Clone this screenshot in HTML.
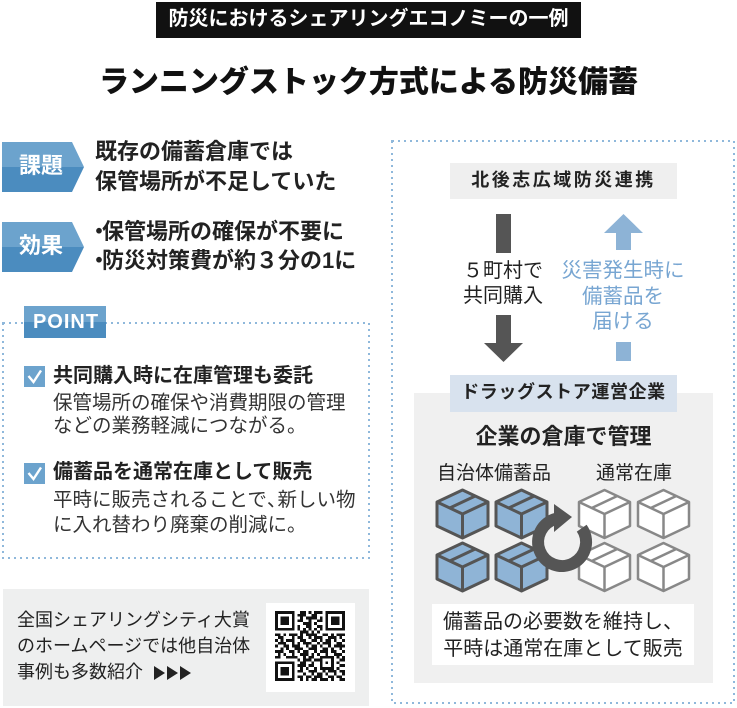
<!DOCTYPE html>
<html><head><meta charset="utf-8"><style>
html,body{margin:0;padding:0;}
body{width:737px;height:708px;overflow:hidden;background:#fff;position:relative;font-family:"Liberation Sans","Noto Sans CJK JP",sans-serif;color:#222;}
.t{position:absolute;white-space:nowrap;line-height:1;}
.b{font-weight:700;}
svg{position:absolute;left:0;top:0;}
</style></head><body>
<svg width="737" height="708" viewBox="0 0 737 708">
  <rect x="156" y="2" width="425" height="36" fill="#111"/>
  <polygon points="2,142 72,142 84,167 2,167" fill="#6ca3cd"/>
  <polygon points="2,167 84,167 72,192 2,192" fill="#4b8cbf"/>
  <polygon points="2,222 72,222 84,247 2,247" fill="#6ca3cd"/>
  <polygon points="2,247 84,247 72,272 2,272" fill="#4b8cbf"/>
  <rect x="3" y="323" width="366" height="235" fill="none" stroke="#8fb8db" stroke-width="2" stroke-dasharray="2 4"/>
  <rect x="24" y="306" width="82" height="16" fill="#6ca3cd"/>
  <rect x="24" y="322" width="82" height="16" fill="#4b8cbf"/>
  <rect x="24" y="366" width="21" height="21" fill="#6ca3cd"/>
  <polyline points="28.5,376 33.5,382 41,370.5" fill="none" stroke="#fff" stroke-width="2.4"/>
  <rect x="24" y="463" width="21" height="21" fill="#6ca3cd"/>
  <polyline points="28.5,473 33.5,479 41,467.5" fill="none" stroke="#fff" stroke-width="2.4"/>
  <rect x="3" y="589" width="366" height="117" fill="#eeefef"/>
  <polygon points="154,666 165,673 154,680" fill="#222"/>
  <polygon points="167,666 178,673 167,680" fill="#222"/>
  <polygon points="180,666 191,673 180,680" fill="#222"/>
  <rect x="266" y="603" width="89" height="89" fill="#fff"/>
  <svg x="275" y="611" width="70" height="70" viewBox="0 0 25 25" shape-rendering="crispEdges">
    <path fill="none" stroke="#111" stroke-width="1" d="M0 .5h7M9 .5h2M12 .5h1M14 .5h3M18 .5h7M0 1.5h1M6 1.5h1M8 1.5h3M13 1.5h2M18 1.5h1M24 1.5h1M0 2.5h1M2 2.5h3M6 2.5h1M9 2.5h1M11 2.5h4M16 2.5h1M18 2.5h1M20 2.5h3M24 2.5h1M0 3.5h1M2 3.5h3M6 3.5h1M8 3.5h2M12 3.5h1M15 3.5h2M18 3.5h1M20 3.5h3M24 3.5h1M0 4.5h1M2 4.5h3M6 4.5h1M10 4.5h3M14 4.5h1M18 4.5h1M20 4.5h3M24 4.5h1M0 5.5h1M6 5.5h1M8 5.5h1M11 5.5h2M15 5.5h2M18 5.5h1M24 5.5h1M0 6.5h7M8 6.5h1M10 6.5h1M12 6.5h1M14 6.5h1M16 6.5h1M18 6.5h7M9 7.5h3M13 7.5h1M15 7.5h1M0 8.5h2M3 8.5h1M5 8.5h3M9 8.5h1M11 8.5h4M17 8.5h2M20 8.5h1M22 8.5h3M1 9.5h2M6 9.5h1M8 9.5h2M12 9.5h1M14 9.5h3M19 9.5h3M23 9.5h1M0 10.5h1M2 10.5h1M4 10.5h3M9 10.5h2M13 10.5h2M16 10.5h1M18 10.5h2M21 10.5h1M24 10.5h1M1 11.5h3M6 11.5h1M8 11.5h1M10 11.5h3M15 11.5h1M17 11.5h3M22 11.5h2M0 12.5h1M3 12.5h2M6 12.5h3M11 12.5h1M13 12.5h2M16 12.5h1M19 12.5h1M21 12.5h4M2 13.5h1M4 13.5h1M7 13.5h3M12 13.5h3M17 13.5h2M20 13.5h1M23 13.5h1M0 14.5h3M5 14.5h2M8 14.5h1M10 14.5h2M14 14.5h1M16 14.5h3M20 14.5h2M24 14.5h1M1 15.5h1M3 15.5h1M6 15.5h1M9 15.5h3M13 15.5h1M15 15.5h1M18 15.5h1M21 15.5h3M0 16.5h2M4 16.5h4M10 16.5h1M12 16.5h2M16 16.5h5M22 16.5h1M24 16.5h1M8 17.5h1M10 17.5h3M14 17.5h2M16 17.5h1M20 17.5h1M23 17.5h2M0 18.5h7M9 18.5h2M13 18.5h1M16 18.5h1M18 18.5h1M20 18.5h1M22 18.5h1M0 19.5h1M6 19.5h1M8 19.5h3M12 19.5h2M16 19.5h1M20 19.5h1M23 19.5h2M0 20.5h1M2 20.5h3M6 20.5h1M9 20.5h1M11 20.5h1M14 20.5h1M16 20.5h5M22 20.5h1M0 21.5h1M2 21.5h3M6 21.5h1M8 21.5h2M12 21.5h3M17 21.5h1M19 21.5h3M23 21.5h2M0 22.5h1M2 22.5h3M6 22.5h1M10 22.5h1M13 22.5h1M15 22.5h2M18 22.5h1M21 22.5h1M24 22.5h1M0 23.5h1M6 23.5h1M8 23.5h2M11 23.5h2M14 23.5h3M19 23.5h2M22 23.5h2M0 24.5h7M9 24.5h1M11 24.5h1M13 24.5h2M16 24.5h3M20 24.5h1M23 24.5h2"/>
  </svg>
  <rect x="392" y="141" width="342" height="562" fill="none" stroke="#8fb8db" stroke-width="2" stroke-dasharray="2 4"/>
  <rect x="450" y="163" width="227" height="36" fill="#efefef"/>
  <rect x="496" y="214" width="15" height="39" fill="#555"/>
  <rect x="496" y="315" width="15" height="29" fill="#555"/>
  <polygon points="484,343 523,343 503.5,362" fill="#555"/>
  <polygon points="604,233 643,233 623.5,214" fill="#8db3d6"/>
  <rect x="616" y="232" width="15" height="18" fill="#8db3d6"/>
  <rect x="616" y="342" width="15" height="19" fill="#8db3d6"/>
  <rect x="414" y="393" width="299" height="290" fill="#f0f0f0"/>
  <rect x="450" y="375" width="227" height="37" fill="#d8e2ee"/>
  <defs>
    <g id="bx">
      <polygon points="25.5,0 51,12 51,36 25.5,48 0,36 0,12" stroke-linejoin="round"/>
      <polyline points="0,12 25.5,24 51,12" fill="none"/>
      <line x1="25.5" y1="24" x2="25.5" y2="48"/>
      <line x1="12.75" y1="18" x2="38.25" y2="6"/>
    </g>
  </defs>
  <g fill="#8fb4d6" stroke="#555" stroke-width="3" stroke-linejoin="round">
    <use href="#bx" x="437" y="490"/>
    <use href="#bx" x="496" y="490"/>
    <use href="#bx" x="437" y="543"/>
    <use href="#bx" x="496" y="543"/>
  </g>
  <g fill="#fff" stroke="#888" stroke-width="2.5" stroke-linejoin="round">
    <use href="#bx" x="579" y="490"/>
    <use href="#bx" x="638" y="490"/>
    <use href="#bx" x="579" y="543"/>
    <use href="#bx" x="638" y="543"/>
  </g>
  <path d="M581.7 528.2 A24 24 0 1 1 556 518.8" fill="none" stroke="#555" stroke-width="12"/>
  <polygon points="554,504 554,532 572,517" fill="#555"/>
  <rect x="432" y="604" width="262" height="61" fill="#fff"/>
</svg>

<div class="t b" style="left:156px;width:425px;text-align:center;top:9px;font-size:20px;color:#fff;">防災におけるシェアリングエコノミーの一例</div>
<div class="t" style="left:0;width:737px;text-align:center;top:68px;font-size:30px;color:#111;font-weight:900;">ランニングストック方式による防災備蓄</div>

<div class="t b" style="left:19px;top:155px;font-size:22px;color:#fff;">課題</div>
<div class="t b" style="left:95px;top:141px;font-size:22px;color:#222;">既存の備蓄倉庫では</div>
<div class="t b" style="left:95px;top:171px;font-size:22px;color:#222;">保管場所が不足していた</div>

<div class="t b" style="left:19px;top:235px;font-size:22px;color:#fff;">効果</div>
<div class="t b" style="left:88px;top:221px;font-size:22px;color:#222;"><span style="letter-spacing:-8px">・</span>保管場所の確保が不要に</div>
<div class="t b" style="left:88px;top:250px;font-size:22px;color:#222;"><span style="letter-spacing:-8px">・</span>防災対策費が約３分の1に</div>

<div class="t b" style="left:24px;width:84px;text-align:center;top:312px;font-size:20px;color:#fff;letter-spacing:1px;font-family:'Liberation Sans',sans-serif;">POINT</div>

<div class="t b" style="left:53px;top:366px;font-size:20px;color:#222;">共同購入時に在庫管理も委託</div>
<div class="t" style="left:53px;top:394px;font-size:19.5px;color:#333;">保管場所の確保や消費期限の管理</div>
<div class="t" style="left:53px;top:417px;font-size:19.5px;color:#333;">などの業務軽減につながる。</div>

<div class="t b" style="left:53px;top:462px;font-size:20px;color:#222;">備蓄品を通常在庫として販売</div>
<div class="t" style="left:53px;top:491px;font-size:19.5px;color:#333;">平時に販売されることで<span style="letter-spacing:-9px">、</span>新しい物</div>
<div class="t" style="left:53px;top:516px;font-size:19.5px;color:#333;">に入れ替わり廃棄の削減に。</div>

<div class="t" style="left:17px;top:611px;font-size:18px;color:#222;">全国シェアリングシティ大賞</div>
<div class="t" style="left:17px;top:637px;font-size:18px;color:#222;">のホームページでは他自治体</div>
<div class="t" style="left:17px;top:663px;font-size:18px;color:#222;">事例も多数紹介</div>

<div class="t b" style="left:450px;width:227px;text-align:center;top:171px;font-size:18px;color:#222;letter-spacing:2.5px;">北後志広域防災連携</div>

<div class="t" style="left:443px;width:120px;text-align:center;top:261px;font-size:20px;color:#222;">５町村で</div>
<div class="t" style="left:443px;width:120px;text-align:center;top:286px;font-size:20px;color:#222;">共同購入</div>

<div class="t" style="left:553px;width:140px;text-align:center;top:261px;font-size:20.5px;color:#78a6d2;">災害発生時に</div>
<div class="t" style="left:553px;width:140px;text-align:center;top:287px;font-size:20.5px;color:#78a6d2;">備蓄品を</div>
<div class="t" style="left:553px;width:140px;text-align:center;top:312px;font-size:20.5px;color:#78a6d2;">届ける</div>

<div class="t b" style="left:450px;width:227px;text-align:center;top:383px;font-size:18px;color:#222;letter-spacing:0.6px;">ドラッグストア運営企業</div>
<div class="t b" style="left:414px;width:299px;text-align:center;top:426px;font-size:22px;color:#222;">企業の倉庫で管理</div>
<div class="t" style="left:437px;top:464px;font-size:19px;color:#222;">自治体備蓄品</div>
<div class="t" style="left:596px;top:464px;font-size:19px;color:#222;">通常在庫</div>

<div class="t" style="left:432px;width:262px;text-align:center;top:612px;font-size:20px;color:#222;">備蓄品の必要数を維持し、</div>
<div class="t" style="left:432px;width:262px;text-align:center;top:639px;font-size:20px;color:#222;">平時は通常在庫として販売</div>
</body></html>
